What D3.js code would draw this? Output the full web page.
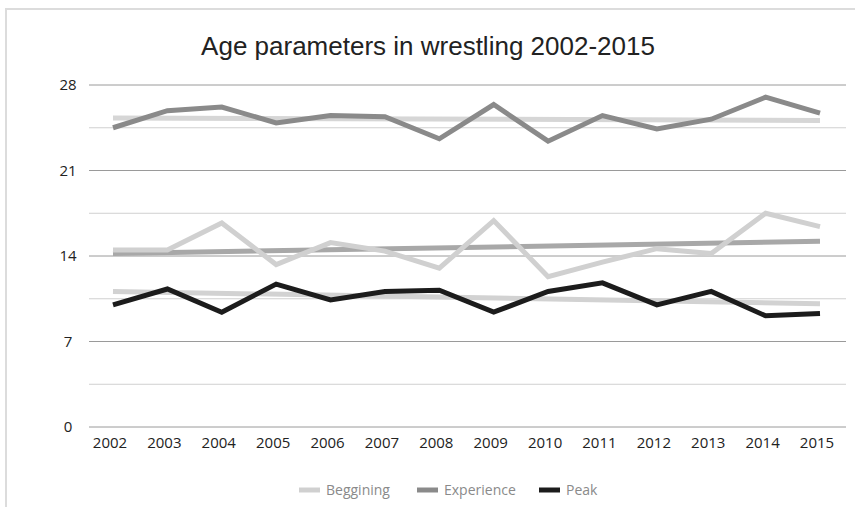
<!DOCTYPE html>
<html>
<head>
<meta charset="utf-8">
<script src="https://cdn.jsdelivr.net/npm/d3@7"></script>
<style>
  body { margin: 0; background: #fff; }
  svg { display: block; }
</style>
</head>
<body>
<div id="chart"></div>
<script>
const years = ["2002","2003","2004","2005","2006","2007","2008","2009","2010","2011","2012","2013","2014","2015"];
const beggining  = [14.5, 14.5, 16.7, 13.3, 15.1, 14.4, 13.0, 16.9, 12.3, 13.5, 14.6, 14.2, 17.5, 16.4];
const experience = [24.5, 25.9, 26.2, 24.9, 25.5, 25.4, 23.6, 26.4, 23.4, 25.5, 24.4, 25.2, 27.0, 25.7];
const peak       = [10.0, 11.3, 9.4, 11.7, 10.4, 11.1, 11.2, 9.4, 11.1, 11.8, 10.0, 11.1, 9.1, 9.3];
// trend lines, start and end values
const trendExperience = [25.3, 25.1];
const trendBeggining  = [14.2, 15.2];
const trendPeak       = [11.1, 10.1];
const yTicks = [0, 7, 14, 21, 28];
const yMinor = [3.5, 10.5, 17.5, 24.5];

const width = 855, height = 507;

const svg = d3.select("#chart").append("svg")
    .attr("width", width)
    .attr("height", height);

// frame (cropped on right/bottom)
svg.append("path")
    .attr("d", "M6,510 L6,9 L860,9")
    .attr("fill", "none")
    .attr("stroke", "#dcdcdc")
    .attr("stroke-width", 2);

/* ---------------- SCALES ---------------- */
const x = d3.scalePoint().domain(years).range([113, 820]);
const y = d3.scaleLinear().domain([0, 28]).range([427, 85]);
const gridX0 = 89, gridX1 = 846;

/* ---------------- GRID ---------------- */
svg.append("g").selectAll("line").data(yMinor).join("line")
    .attr("x1", gridX0).attr("x2", gridX1)
    .attr("y1", d => y(d)).attr("y2", d => y(d))
    .attr("stroke", "#d0d0d0").attr("stroke-width", 1);

svg.append("g").selectAll("line").data(yTicks).join("line")
    .attr("x1", gridX0).attr("x2", gridX1)
    .attr("y1", d => y(d)).attr("y2", d => y(d))
    .attr("stroke", "#9a9a9a").attr("stroke-width", 1);

svg.append("g").selectAll("text").data(yTicks).join("text")
    .attr("x", 68).attr("y", d => y(d) + 5)
    .attr("text-anchor", "middle")
    .style("font-family", "'Open Sans', sans-serif")
    .style("font-size", "15px")
    .style("fill", "#222")
    .text(d => d);

svg.append("g").selectAll("text").data(years).join("text")
    .attr("x", d => x(d) - 3).attr("y", 448)
    .attr("text-anchor", "middle")
    .style("font-family", "'Open Sans', sans-serif")
    .style("font-size", "15px")
    .style("fill", "#222")
    .text(d => d);

/* ---------------- TRENDS ---------------- */
const trends = [
    {v: trendExperience, color: "#d6d6d6"},
    {v: trendBeggining, color: "#a8a8a8"},
    {v: trendPeak, color: "#d2d2d2"}
];
svg.append("g").selectAll("line").data(trends).join("line")
    .attr("x1", x(years[0])).attr("x2", x(years[years.length - 1]))
    .attr("y1", d => y(d.v[0])).attr("y2", d => y(d.v[1]))
    .attr("stroke", d => d.color)
    .attr("stroke-width", 5);

/* ---------------- LINES ---------------- */
const series = [
    {name: "Beggining", values: beggining, color: "#d0d0d0"},
    {name: "Experience", values: experience, color: "#8a8a8a"},
    {name: "Peak", values: peak, color: "#1c1c1c"}
];

const line = d3.line()
    .x((d, i) => x(years[i]))
    .y(d => y(d));

svg.append("g").selectAll("path").data(series).join("path")
    .attr("d", d => line(d.values))
    .attr("fill", "none")
    .attr("stroke", d => d.color)
    .attr("stroke-width", 5)
    .attr("stroke-linejoin", "miter");

/* ---------------- LEGEND ---------------- */
const legendX = [299, 417, 539];
const legend = svg.append("g").selectAll("g").data(series).join("g")
    .attr("transform", (d, i) => `translate(${legendX[i]},490)`);
legend.append("line")
    .attr("x1", 0).attr("x2", 21)
    .attr("stroke", d => d.color)
    .attr("stroke-width", 5);
legend.append("text")
    .attr("x", 27).attr("y", 5)
    .style("font-family", "'Open Sans', sans-serif")
    .style("font-size", "14px")
    .style("fill", "#8a8a8a")
    .text(d => d.name);

/* ---------------- TITLE ---------------- */
svg.append("text")
    .attr("x", 428).attr("y", 55)
    .attr("text-anchor", "middle")
    .style("font-family", "'Liberation Sans Narrow', sans-serif")
    .style("font-size", "26px")
    .style("fill", "#222")
    .text("Age parameters in wrestling 2002-2015");
</script>
</body>
</html>
